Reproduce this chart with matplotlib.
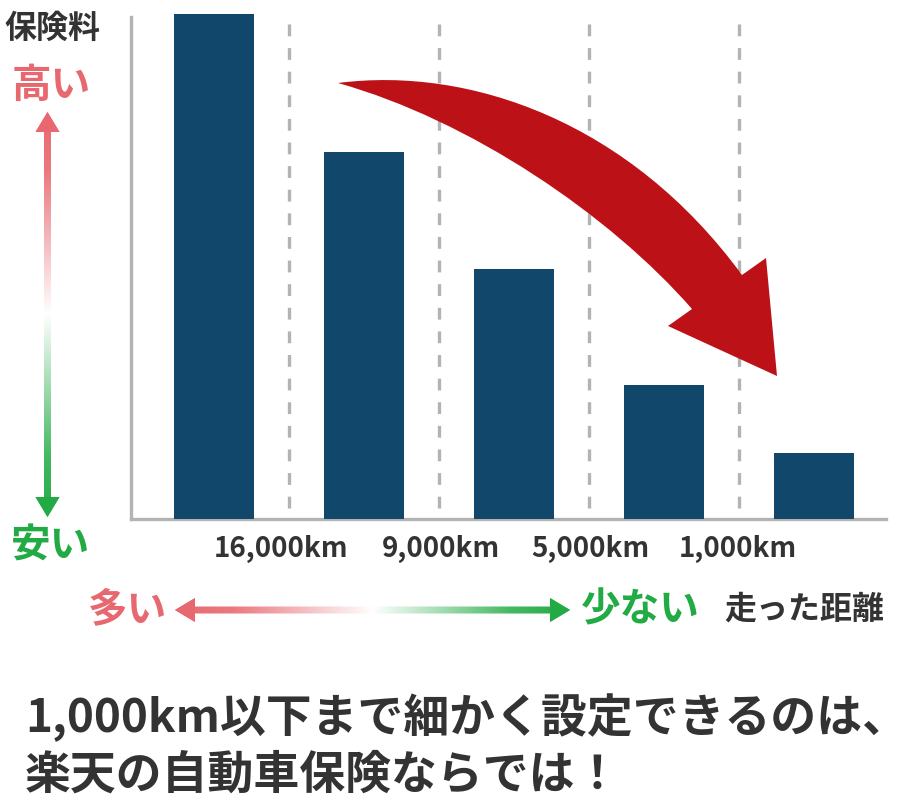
import matplotlib
matplotlib.use("Agg")
import matplotlib.pyplot as plt
import numpy as np
from matplotlib.path import Path
from matplotlib.patches import PathPatch, Polygon
from matplotlib.colors import LinearSegmentedColormap

plt.rcParams['font.family'] = ['Noto Sans CJK JP', 'DejaVu Sans']
plt.rcParams['lines.scale_dashes'] = False

# ---- data ----
categories = ["16,000km超", "16,000km", "9,000km", "5,000km", "1,000km"]
premium = [100, 72.6, 49.6, 26.6, 13.1]
tick_labels = ["16,000km", "9,000km", "5,000km", "1,000km"]
tick_pos = [0.45, 1.51, 2.51, 3.49]
divider_pos = [0.5, 1.5, 2.5, 3.5]

BAR = "#11476a"
GRID = "#b3b3b3"
RED_T = "#e8686f"
GREEN_T = "#22ab45"
DARK = "#333333"
ARROW = "#bd1118"

W, H = 910, 810
fig = plt.figure(figsize=(W / 100, H / 100), dpi=100)

# main axes in pixel frame
L, R, B, T = 131, 886, 519, 14
ax = fig.add_axes([L / W, 1 - B / H, (R - L) / W, (B - T) / H])
x = np.arange(len(premium))
ax.bar(x, premium, width=80 / 150, color=BAR, zorder=3, clip_on=False)
ax.set_xlim((L - 214) / 150, (R - 214) / 150)
ax.set_ylim(0, 100)
ax.vlines(divider_pos, 2.2, 100, colors=GRID, linewidth=2.4,
          linestyles=(0, (8.5, 8.5)), zorder=1)
for s in ["top", "right"]:
    ax.spines[s].set_visible(False)
for s in ["left", "bottom"]:
    ax.spines[s].set_color(GRID)
    ax.spines[s].set_linewidth(2.4)
ax.spines["left"].set_bounds(0, 99.4)
ax.set_xticks([])
ax.set_yticks([])
for p, lab in zip(tick_pos, tick_labels):
    ax.text(p, -6.0, lab, ha="center", va="center", fontsize=20,
            fontweight="bold", color=DARK)

# overlay in pixel coords
ov = fig.add_axes([0, 0, 1, 1], zorder=5)
ov.set_xlim(0, W)
ov.set_ylim(H, 0)
ov.axis("off")
ov.patch.set_alpha(0)

# red curved arrow
verts = [(338, 83), (470, 66), (630, 122), (742, 275),
         (766, 258), (777, 376), (668, 326), (692, 309),
         (610, 215), (470, 120), (338, 83), (338, 83)]
codes = [Path.MOVETO, Path.CURVE4, Path.CURVE4, Path.CURVE4,
         Path.LINETO, Path.LINETO, Path.LINETO, Path.LINETO,
         Path.CURVE4, Path.CURVE4, Path.CURVE4, Path.CLOSEPOLY]
ov.add_patch(PathPatch(Path(verts, codes), facecolor=ARROW, edgecolor="none"))

cmap = LinearSegmentedColormap.from_list(
    "rg", [(0, RED_T), (0.15, "#ea7a80"), (0.5, "#ffffff"), (0.85, "#45b862"), (1, GREEN_T)])

# vertical gradient arrow
cx = 47.5
vpoly = [(cx, 112), (cx + 12, 132), (cx + 3.5, 132), (cx + 3.5, 497), (cx + 12, 497),
         (cx, 517), (cx - 12, 497), (cx - 3.5, 497), (cx - 3.5, 132), (cx - 12, 132)]
vp = Polygon(vpoly, closed=True, facecolor="none", edgecolor="none")
ov.add_patch(vp)
grad = np.linspace(0, 1, 256).reshape(-1, 1)
im = ov.imshow(grad, cmap=cmap, extent=(cx - 13, cx + 13, 518, 111),
               aspect="auto", zorder=2, interpolation="bilinear")
im.set_clip_path(vp)
ov.add_patch(Polygon([(cx, 112), (cx + 12, 132), (cx - 12, 132)], facecolor=RED_T, edgecolor="none", zorder=3))
ov.add_patch(Polygon([(cx, 517), (cx + 12, 497), (cx - 12, 497)], facecolor=GREEN_T, edgecolor="none", zorder=3))

# horizontal gradient arrow
cy = 610
hpoly = [(175, cy), (195, cy - 12), (195, cy - 3.5), (550, cy - 3.5), (550, cy - 12),
         (570, cy), (550, cy + 12), (550, cy + 3.5), (195, cy + 3.5), (195, cy + 12)]
hp = Polygon(hpoly, closed=True, facecolor="none", edgecolor="none")
ov.add_patch(hp)
grad2 = np.linspace(0, 1, 256).reshape(1, -1)
im2 = ov.imshow(grad2, cmap=cmap, extent=(174, 571, cy + 13, cy - 13),
                aspect="auto", zorder=2, interpolation="bilinear")
im2.set_clip_path(hp)
ov.add_patch(Polygon([(175, cy), (195, cy - 12), (195, cy + 12)], facecolor=RED_T, edgecolor="none", zorder=3))
ov.add_patch(Polygon([(570, cy), (550, cy - 12), (550, cy + 12)], facecolor=GREEN_T, edgecolor="none", zorder=3))
ov.set_xlim(0, W)
ov.set_ylim(H, 0)

# texts
ov.text(4, 29, "保険料", fontsize=23, fontweight="bold", color=DARK, va="center", ha="left")
ov.text(12, 85, "高い", fontsize=28.5, fontweight="bold", color=RED_T, va="center", ha="left")
ov.text(11, 546, "安い", fontsize=28.5, fontweight="bold", color=GREEN_T, va="center", ha="left")
ov.text(88, 610, "多い", fontsize=28.5, fontweight="bold", color=RED_T, va="center", ha="left")
ov.text(581, 610, "少ない", fontsize=28.5, fontweight="bold", color=GREEN_T, va="center", ha="left")
ov.text(724, 610, "走った距離", fontsize=23, fontweight="bold", color=DARK, va="center", ha="left")
ov.text(25, 718, "1,000km以下まで細かく設定できるのは、", fontsize=33,
        fontweight="bold", color=DARK, va="center", ha="left")
ov.text(25, 776, "楽天の自動車保険ならでは！", fontsize=33,
        fontweight="bold", color=DARK, va="center", ha="left")

fig.savefig("out.png", dpi=100, facecolor="white")
